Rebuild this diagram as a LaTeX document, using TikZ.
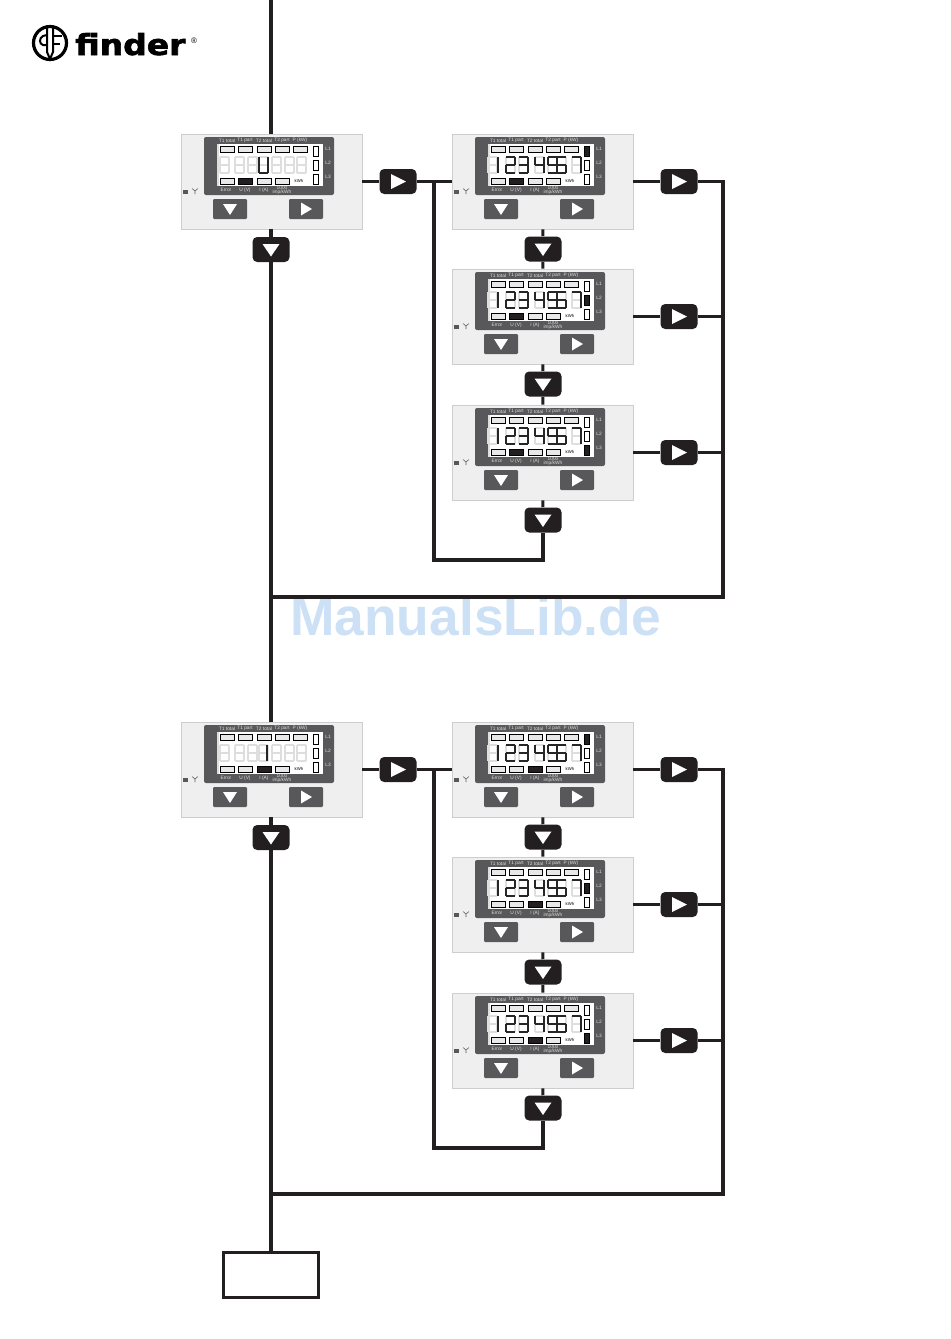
\documentclass[tikz,border=0pt]{standalone}
\usepackage{fontspec}
\setmainfont{Liberation Sans}
\newfontfamily\logofont[BoldFeatures={FakeBold=2}]{DejaVu Sans}
\usetikzlibrary{calc, positioning}
\definecolor{meterdark}{RGB}{88, 88, 90}
\definecolor{keyblack}{RGB}{35, 31, 32}
\definecolor{panelbg}{RGB}{239, 239, 239}
\definecolor{panelline}{RGB}{205, 205, 205}
\definecolor{ghostgrey}{RGB}{222, 222, 222}
\definecolor{flagfill}{RGB}{232, 232, 232}
\definecolor{markblue}{RGB}{204, 224, 246}

\tikzset{
  panelbox/.style={draw=panelline, fill=panelbg, line width=0.6pt, inner sep=0pt,
    minimum width=135.75pt, minimum height=71.25pt},
  keydown/.style={fill=keyblack, rounded corners=3.5pt, inner sep=0pt,
    minimum width=27.75pt, minimum height=18.75pt,
    path picture={\fill[white, sharp corners] ($(path picture bounding box.center)+(-8.5,-5.5)$)
      -- ++(17,0) -- ++(-8.5,12.5) -- cycle;}},
  keyright/.style={fill=keyblack, rounded corners=3.5pt, inner sep=0pt,
    minimum width=27.75pt, minimum height=18.75pt,
    path picture={\fill[white, sharp corners] ($(path picture bounding box.center)+(-7,-7.5)$)
      -- ++(0,15) -- ++(15,-7.5) -- cycle;}},
  btndown/.style={fill=meterdark, rounded corners=0.8pt, inner sep=0pt,
    minimum width=25.5pt, minimum height=15pt,
    path picture={\fill[white, sharp corners] ($(path picture bounding box.center)+(-7,-5)$)
      -- ++(14,0) -- ++(-7,11) -- cycle;}},
  btnright/.style={fill=meterdark, rounded corners=0.8pt, inner sep=0pt,
    minimum width=25.5pt, minimum height=15pt,
    path picture={\fill[white, sharp corners] ($(path picture bounding box.center)+(-5,-6.5)$)
      -- ++(0,13) -- ++(11,-6.5) -- cycle;}},
  flowline/.style={line width=2.3pt, keyblack, line cap=butt},
  flagbox/.style={draw=black, line width=0.55pt},
  headlabel/.style={text=ghostgrey, font=\fontsize{3.6}{3.8}\selectfont, inner sep=0pt, align=center},
  lcdlabel/.style={text=black, font=\fontsize{3.2}{3.4}\selectfont, inner sep=0pt},
  endbox/.style={draw=keyblack, fill=white, line width=2.4pt, inner sep=0pt,
    minimum width=71.25pt, minimum height=33.75pt},
}

% segmente der anzeige
\newcommand{\sega}{(0,0) -- (9,0)}
\newcommand{\segb}{(9,0) -- (9,8)}
\newcommand{\segc}{(9,8) -- (9,16)}
\newcommand{\segd}{(0,16) -- (9,16)}
\newcommand{\sege}{(0,8) -- (0,16)}
\newcommand{\segf}{(0,0) -- (0,8)}
\newcommand{\segg}{(0,8) -- (9,8)}

\newcommand{\ghostMain}{39,54,67,78,91,104,116}
\newcommand{\ghostSide}{36,54,67,83,96,105,120}
\newcommand{\digitsU}{78/{b,c,d,e,f}}
\newcommand{\digitsI}{77/{b,c}}
\newcommand{\digitsN}{37/{b,c},54/{a,b,g,e,d},67/{a,b,g,c,d},83/{f,g,b,c},96/{a,f,g,c,d},105/{a,f,g,e,c,d},120/{a,b,c}}

% messgeraet: name, x, y, aktive marke unten, aktive phase, ziffern, leere ziffern
\newcommand{\meterpanel}[7]{
  \begin{scope}[shift={(#2,#3)}]
    \node[panelbox] (#1) at (90.5,47.5) {};
    \fill[meterdark, rounded corners=1.5pt] (23,3) rectangle (153,61);
    \fill[white] (36,10) rectangle (142,52);
    \fill[ghostgrey] (36,10) rectangle (38,52);
    % marken oben und unten
    \foreach \fx [count=\i] in {39,57,76,94,112} {
      \draw[flagbox, fill=flagfill] (\fx,12) rectangle ++(14,6);
    }
    \foreach \fx [count=\i] in {39,57,76,94} {
      \ifnum\i=#4\def\flagcol{keyblack}\else\def\flagcol{flagfill}\fi
      \draw[flagbox, fill=\flagcol] (\fx,44) rectangle ++(14,6);
    }
    % phasen
    \foreach \ly [count=\i] in {12,26,40} {
      \ifnum\i=#5\def\flagcol{keyblack}\else\def\flagcol{white}\fi
      \draw[flagbox, fill=\flagcol] (132,\ly) rectangle ++(5,10);
      \node[headlabel] (#1l\i) at (147,\ly+3) {L\i};
    }
    % ziffern
    \foreach \dx in #7 {
      \begin{scope}[shift={(\dx,23)}]
        \foreach \s in {a,b,c,d,e,f,g} {
          \draw[ghostgrey, line width=0.9pt] \csname seg\s\endcsname;
        }
      \end{scope}
    }
    \foreach \dx/\dseg in #6 {
      \begin{scope}[shift={(\dx,23)}]
        \foreach \s in \dseg {
          \draw[black!85, line width=1.05pt] \csname seg\s\endcsname;
        }
      \end{scope}
    }
    % beschriftung
    \node[headlabel] (#1ta) at (46,6.5) {T1 total};
    \node[headlabel] (#1tb) at (64,6.5) {T1 part};
    \node[headlabel] (#1tc) at (83,6.5) {T2 total};
    \node[headlabel] (#1td) at (101,6.5) {T2 part};
    \node[headlabel] (#1te) at (119,6.5) {P (kW)};
    \node[headlabel] (#1ba) at (45,56) {Error};
    \node[headlabel] (#1bb) at (64,56) {U (V)};
    \node[headlabel] (#1bc) at (83,56) {I (A)};
    \node[headlabel] (#1bd) at (101,56.5) {1000\\[-0.4pt]imp/kWh};
    \node[lcdlabel] (#1kwh) at (118,47) {kWh};
    % tasten
    \node[btndown] (#1dn) at (49,75) {};
    \node[btnright] (#1rt) at (125,75) {};
    % symbol links
    \fill[meterdark] (2,55.5) rectangle ++(5,4);
    \draw[meterdark, line width=0.4pt] (11,54.5) -- (14,57) -- (17,54.5) (14,57) -- (14,60);
  \end{scope}
}

\begin{document}
\begin{tikzpicture}[x=0.75pt, y=-0.75pt]
  \useasboundingbox (0,0) rectangle (950,1339);

  % logo
  \draw[black, line width=2.4pt] (50,43) circle (16.5);
  \draw[black, line width=1.5pt] (47,28) -- (47,52) -- (50,59) -- (53,52) -- (53,28);
  \draw[black, line width=1.5pt] (53,36) -- (62,36) (53,44) -- (60,44);
  \draw[black, line width=1.5pt] (47,35) -- (43,36) .. controls (39,38) and (39,44) .. (43,45) -- (47,45);
  \node[font=\logofont\bfseries\fontsize{21.7}{24}\selectfont, anchor=base west, inner sep=0pt, xscale=1.14] (logotext) at (75,55) {finder};
  \node[font=\fontsize{6}{7}\selectfont, inner sep=0pt] (logomark) at (194,41) {®};

  % schriftzug
  \node[text=markblue, font=\bfseries\fontsize{40}{44}\selectfont, anchor=base west, inner sep=0pt] (watermark) at (290,635) {ManualsLib.de};

  % erste gruppe: spannung
  \coordinate (topstart) at (271,0);
  \meterpanel{uMain}{181}{134}{2}{0}{\digitsU}{\ghostMain}
  \node[keydown] (uDown) at (271,249.5) {};
  \node[keyright] (uRight) at (398,181.5) {};
  \foreach \r/\py/\l in {a/134/1,b/269/2,c/405/3} {
    \meterpanel{uPanel\r}{452}{\py}{2}{\l}{\digitsN}{\ghostSide}
    \node[keyright] (uKey\r) at (679,\py+47.5) {};
    \node[keydown] (uStep\r) at (543,\py+115) {};
  }
  \coordinate (uJoin) at (434,181.5);
  \coordinate (uLoopA) at (434,560);
  \coordinate (uLoopB) at (543,560);
  \coordinate (uBusA) at (723,181.5);
  \coordinate (uBusB) at (723,597);
  \coordinate (uBusC) at (271,597);

  % zweite gruppe: strom
  \meterpanel{iMain}{181}{722}{3}{0}{\digitsI}{\ghostMain}
  \node[keydown] (iDown) at (271,837.5) {};
  \node[keyright] (iRight) at (398,769.5) {};
  \foreach \r/\py/\l in {a/722/1,b/857/2,c/993/3} {
    \meterpanel{iPanel\r}{452}{\py}{3}{\l}{\digitsN}{\ghostSide}
    \node[keyright] (iKey\r) at (679,\py+47.5) {};
    \node[keydown] (iStep\r) at (543,\py+115) {};
  }
  \coordinate (iJoin) at (434,769.5);
  \coordinate (iLoopA) at (434,1148);
  \coordinate (iLoopB) at (543,1148);
  \coordinate (iBusA) at (723,769.5);
  \coordinate (iBusB) at (723,1194);
  \coordinate (iBusC) at (271,1194);

  % ende
  \node[endbox] (endBox) at (271,1275) {};

  % verbindungen
  \draw[flowline] (topstart) -- (topstart |- uMain.north);
  \draw[flowline] (uDown |- uMain.south) -- (uDown);
  \draw[flowline] (uDown) -- (uDown |- iMain.north);
  \draw[flowline] (uMain) -- (uRight);
  \draw[flowline] (uRight) -- (uPanela);
  \draw[flowline] (uPanela) -- (uKeya);
  \draw[flowline] (uPanelb) -- (uKeyb);
  \draw[flowline] (uPanelc) -- (uKeyc);
  \draw[flowline] (uPanela) -- (uStepa);
  \draw[flowline] (uStepa) -- (uPanelb);
  \draw[flowline] (uPanelb) -- (uStepb);
  \draw[flowline] (uStepb) -- (uPanelc);
  \draw[flowline] (uPanelc) -- (uStepc);
  \draw[flowline] (uJoin) -- (uLoopA) -- (uLoopB) -- (uStepc);
  \draw[flowline] (uKeya) -- (uBusA) -- (uBusB) -- (uBusC);
  \draw[flowline] (uKeyb) -- (uKeyb -| uBusA);
  \draw[flowline] (uKeyc) -- (uKeyc -| uBusA);

  \draw[flowline] (iDown |- iMain.south) -- (iDown);
  \draw[flowline] (iDown) -- (endBox);
  \draw[flowline] (iMain) -- (iRight);
  \draw[flowline] (iRight) -- (iPanela);
  \draw[flowline] (iPanela) -- (iKeya);
  \draw[flowline] (iPanelb) -- (iKeyb);
  \draw[flowline] (iPanelc) -- (iKeyc);
  \draw[flowline] (iPanela) -- (iStepa);
  \draw[flowline] (iStepa) -- (iPanelb);
  \draw[flowline] (iPanelb) -- (iStepb);
  \draw[flowline] (iStepb) -- (iPanelc);
  \draw[flowline] (iPanelc) -- (iStepc);
  \draw[flowline] (iJoin) -- (iLoopA) -- (iLoopB) -- (iStepc);
  \draw[flowline] (iKeya) -- (iBusA) -- (iBusB) -- (iBusC);
  \draw[flowline] (iKeyb) -- (iKeyb -| iBusA);
  \draw[flowline] (iKeyc) -- (iKeyc -| iBusA);
\end{tikzpicture}
\end{document}
